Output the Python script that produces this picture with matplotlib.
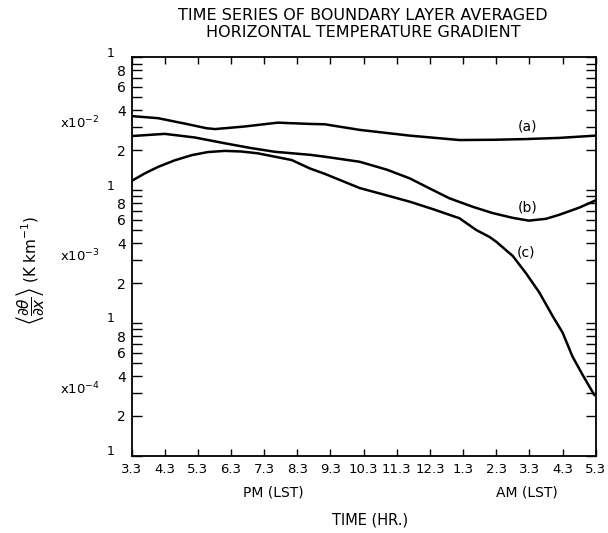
import numpy as np
import matplotlib
matplotlib.use("Agg")
import matplotlib.pyplot as plt
from matplotlib.ticker import FixedLocator, FuncFormatter, NullFormatter

# hour labels along the time axis, 3.3 PM through 5.3 AM
hour_labels = ["3.3", "4.3", "5.3", "6.3", "7.3", "8.3", "9.3", "10.3",
               "11.3", "12.3", "1.3", "2.3", "3.3", "4.3", "5.3"]

# boundary layer averaged gradient, K/km (time given as hour index from 3.3 PM)
t_a = [0.0, 0.8, 1.6, 2.27, 2.52, 3.4, 4.41, 5.38, 5.83, 6.88, 8.39, 9.89, 10.89, 11.88, 12.9, 14.0]
grad_a = [0.0362, 0.0349, 0.0318, 0.0293, 0.0289, 0.0302, 0.0323, 0.0316, 0.0314, 0.0285,
          0.0258, 0.0239, 0.0240, 0.0243, 0.0248, 0.0258]

t_b = [0.0, 1.0, 1.9, 2.81, 3.6, 4.32, 5.38, 5.83, 6.88, 7.7, 8.39, 9.0, 9.59, 10.3, 10.89,
       11.5, 11.98, 12.5, 12.9, 13.5, 14.0]
grad_b = [0.0256, 0.0266, 0.0250, 0.0226, 0.0208, 0.0195, 0.0185, 0.0179, 0.0164, 0.0143,
          0.0123, 0.0103, 0.0087, 0.0075, 0.00674, 0.0062, 0.00591, 0.0061, 0.00654, 0.0074, 0.0084]

t_c = [0.0, 0.4, 0.8, 1.3, 1.82, 2.3, 2.81, 3.3, 3.8, 4.83, 5.38, 5.83, 6.88, 7.6, 8.39, 9.1,
       9.89, 10.4, 10.8, 11.0, 11.5, 11.9, 12.3, 12.71, 13.0, 13.3, 13.6, 13.96]
grad_c = [0.01175, 0.0134, 0.0150, 0.0168, 0.0184, 0.0194, 0.0198, 0.0196, 0.0190, 0.0169,
          0.0146, 0.0133, 0.0104, 0.0093, 0.00821, 0.0072, 0.00616, 0.00502, 0.00445, 0.0041,
          0.0032, 0.00237, 0.0017, 0.00112, 0.00085, 0.00056, 0.00041, 0.000287]

fig = plt.figure(figsize=(6.08, 5.33), dpi=100)
ax = fig.add_axes([0.2163, 0.1445, 0.7635, 0.7477])

for t, g in [(t_a, grad_a), (t_b, grad_b), (t_c, grad_c)]:
    ax.plot(t, g, color="black", lw=1.8, solid_capstyle="round", solid_joinstyle="round")

ax.set_yscale("log")
ax.set_ylim(1e-4, 1e-1)
ax.set_xlim(0, 14)

ax.set_xticks(range(len(hour_labels)))
ax.set_xticklabels(hour_labels, fontsize=9.5)

# y ticks: decades get a raised "1" below, 2/4/6/8 labelled on the minor ticks
ax.yaxis.set_major_locator(FixedLocator([1e-4, 1e-3, 1e-2, 1e-1]))
ax.yaxis.set_major_formatter(NullFormatter())
minor = [m * 10.0 ** e for e in (-4, -3, -2) for m in range(2, 10)]
ax.yaxis.set_minor_locator(FixedLocator(minor))


def minor_label(v, pos):
    m = int(round(v / 10 ** np.floor(np.log10(v) + 1e-9)))
    return str(m) if m in (2, 4, 6, 8) else ""


ax.yaxis.set_minor_formatter(FuncFormatter(minor_label))
ax.tick_params(axis="y", which="both", direction="in", length=7, width=1,
               right=True, labelsize=10, pad=4)
ax.tick_params(axis="x", direction="in", length=5, width=1, top=True, pad=5)
for s in ax.spines.values():
    s.set_linewidth(1.3)

for e in (-4, -3, -2, -1):
    ax.annotate("1", xy=(0, 10.0 ** e), xycoords=("axes fraction", "data"),
                xytext=(-15, 3), textcoords="offset points",
                ha="center", va="center", fontsize=9)
for e in (-4, -3, -2):
    ax.annotate(r"x10$^{%d}$" % e, xy=(0, 3.2 * 10.0 ** e),
                xycoords=("axes fraction", "data"), xytext=(-37, 0),
                textcoords="offset points", ha="center", va="center", fontsize=9.5)

# curve tags
ax.text(11.93, 0.0302, "(a)", ha="center", va="center", fontsize=10)
ax.text(11.94, 0.00742, "(b)", ha="center", va="center", fontsize=10)
ax.text(11.9, 0.00339, "(c)", ha="center", va="center", fontsize=10)

fig.text(363 / 608, 1 - 16 / 533, "TIME SERIES OF BOUNDARY LAYER AVERAGED",
         ha="center", va="center", fontsize=11.5)
fig.text(363 / 608, 1 - 32.5 / 533, "HORIZONTAL TEMPERATURE GRADIENT",
         ha="center", va="center", fontsize=11.5)

fig.text(273 / 608, 1 - 493 / 533, "PM (LST)", ha="center", va="center", fontsize=10)
fig.text(527 / 608, 1 - 493 / 533, "AM (LST)", ha="center", va="center", fontsize=10)
fig.text(370 / 608, 1 - 520 / 533, "TIME (HR.)", ha="center", va="center", fontsize=10.5)

fig.text(30 / 608, 1 - 270 / 533,
         r"$\left\langle\dfrac{\partial\theta}{\partial x}\right\rangle$ (K km$^{-1}$)",
         rotation=90, ha="center", va="center", fontsize=11)

fig.savefig("out.png", dpi=100)
